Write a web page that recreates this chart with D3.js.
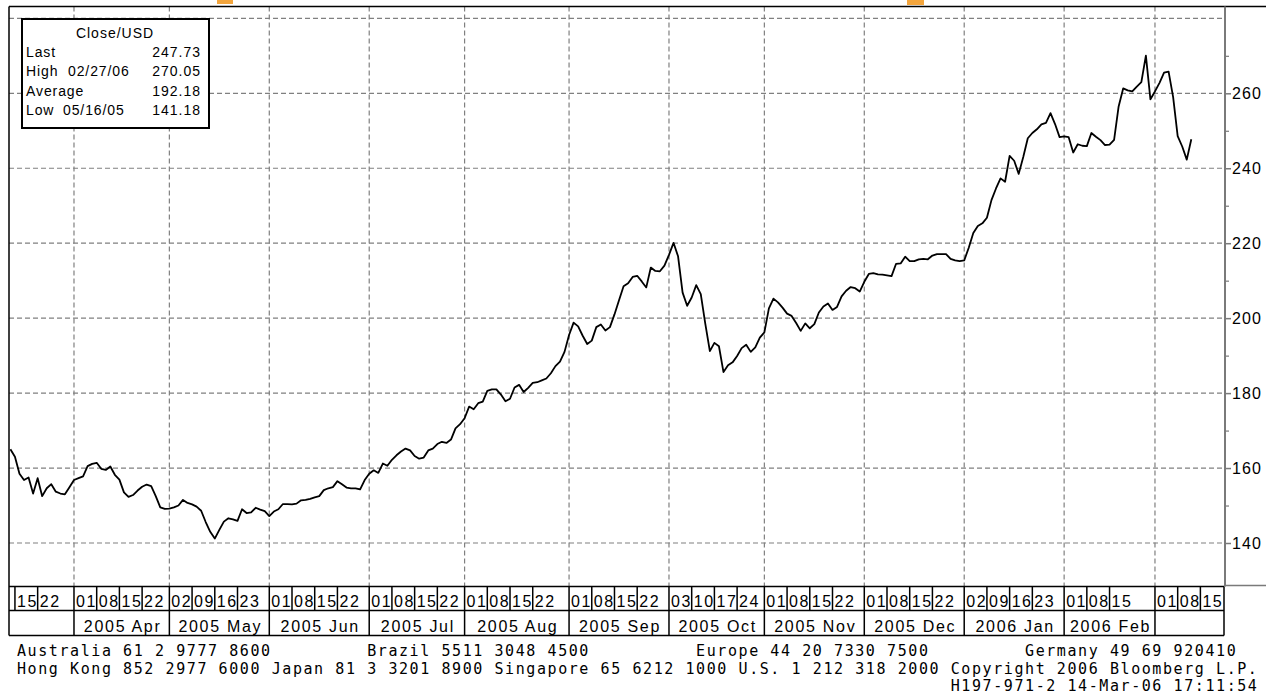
<!DOCTYPE html>
<html>
<head>
<meta charset="utf-8">
<script src="https://cdn.jsdelivr.net/npm/d3@7"></script>
<style>
  body { margin: 0; background: #fff; }
  svg { display: block; }
  text { font-family: "Liberation Sans", Arial, sans-serif; fill: #000; }
  .mono { font-family: "DejaVu Sans Mono", monospace; }
</style>
</head>
<body>
<svg id="chart" width="1266" height="698"></svg>
<script>
// chart data
const firstDay = "2005-03-14";   // first weekday on the chart
const lastAxisDay = "2006-03-22"; // axis runs a bit past the last close

// one close per weekday starting at firstDay
const closes = [
  165.0, 163.0, 158.5, 156.8, 157.5,
  153.2, 157.3, 152.5, 154.6, 155.7,
  153.7, 153.2, 153.0, 154.9, 156.8,
  157.3, 157.8, 160.5, 161.1, 161.4,
  159.8, 159.5, 160.4, 158.2, 156.9,
  153.5, 152.3, 152.8, 154.0, 155.0,
  155.6, 155.2, 152.5, 149.5, 149.1,
  149.2, 149.5, 150.0, 151.5, 150.7,
  150.3, 149.7, 148.6, 145.6, 143.0,
  141.18, 143.5, 145.7, 146.6, 146.3,
  145.9, 149.0, 148.0, 148.2, 149.4,
  148.9, 148.5, 147.2, 148.4, 149.0,
  150.4, 150.4, 150.3, 150.5, 151.4,
  151.5, 151.8, 152.2, 152.5, 154.1,
  154.6, 154.9, 156.5, 155.7, 154.8,
  154.6, 154.6, 154.3, 156.8, 158.5,
  159.4, 158.7, 161.2, 160.6, 162.2,
  163.4, 164.4, 165.2, 164.7, 163.2,
  162.5, 162.8, 164.7, 165.2, 166.4,
  167.0, 166.7, 167.6, 170.6, 171.7,
  173.3, 176.4, 175.7, 177.3, 177.7,
  180.6, 181.0, 181.0, 179.6, 177.8,
  178.5, 181.5, 182.2, 180.3, 181.4,
  182.7, 182.9, 183.4, 183.9, 185.3,
  187.2, 188.4, 191.0, 195.5, 198.8,
  197.8, 195.3, 193.1, 194.0, 197.6,
  198.3, 196.7, 197.6, 201.0, 204.8,
  208.5, 209.3, 211.0, 211.3, 209.8,
  208.2, 213.5, 212.6, 212.5, 214.0,
  216.9, 220.1, 216.5, 206.8, 203.3,
  205.5, 208.8, 206.4, 198.5, 191.2,
  193.4, 192.5, 185.6, 187.4, 188.2,
  189.9, 192.0, 192.9, 191.0, 192.2,
  194.8, 196.2, 202.6, 205.2, 204.2,
  202.8, 201.2, 200.6, 198.7, 196.6,
  198.6, 197.3, 198.4, 201.5, 203.1,
  203.9, 202.2, 203.0, 205.8, 207.3,
  208.3, 208.0, 207.1, 209.7, 211.8,
  212.0, 211.7, 211.6, 211.4, 211.2,
  214.5, 214.6, 216.4, 215.2, 215.2,
  215.7, 215.8, 215.7, 216.7, 217.1,
  217.1, 217.1, 215.8, 215.4, 215.2,
  215.4, 218.8, 222.7, 224.6, 225.3,
  226.8, 231.5, 234.6, 237.3, 236.4,
  243.3, 242.0, 238.5, 243.0, 248.0,
  249.4, 250.4, 251.7, 252.1, 254.7,
  251.8, 248.3, 248.5, 248.3, 244.2,
  246.4, 246.0, 245.9, 249.4, 248.4,
  247.5, 246.2, 246.3, 247.6, 256.5,
  261.3, 260.8, 260.5, 261.8, 263.0,
  270.05, 258.4, 260.5, 262.8, 265.5,
  265.8, 259.0, 248.6, 245.8, 242.3,
  247.73
];

const yTicks = [140, 160, 180, 200, 220, 240, 260];
const yGrid = [140, 160, 180, 200, 220, 240, 260, 280];
const yMinor = [150, 170, 190, 210, 230, 250, 270];

const dayTicks = [
  "2005-03-15", "2005-03-22",
  "2005-04-01", "2005-04-08", "2005-04-15", "2005-04-22",
  "2005-05-02", "2005-05-09", "2005-05-16", "2005-05-23",
  "2005-06-01", "2005-06-08", "2005-06-15", "2005-06-22",
  "2005-07-01", "2005-07-08", "2005-07-15", "2005-07-22",
  "2005-08-01", "2005-08-08", "2005-08-15", "2005-08-22",
  "2005-09-01", "2005-09-08", "2005-09-15", "2005-09-22",
  "2005-10-03", "2005-10-10", "2005-10-17", "2005-10-24",
  "2005-11-01", "2005-11-08", "2005-11-15", "2005-11-22",
  "2005-12-01", "2005-12-08", "2005-12-15", "2005-12-22",
  "2006-01-02", "2006-01-09", "2006-01-16", "2006-01-23",
  "2006-02-01", "2006-02-08", "2006-02-15",
  "2006-03-01", "2006-03-08", "2006-03-15"
];
const monthStarts = [
  "2005-04-01", "2005-05-02", "2005-06-01", "2005-07-01", "2005-08-01", "2005-09-01",
  "2005-10-03", "2005-11-01", "2005-12-01", "2006-01-02", "2006-02-01", "2006-03-01"
];
const monthLabels = [
  "2005 Apr", "2005 May", "2005 Jun", "2005 Jul", "2005 Aug", "2005 Sep",
  "2005 Oct", "2005 Nov", "2005 Dec", "2006 Jan", "2006 Feb"
];

const legendTitle = "Close/USD";
const legendLabels = ["Last", "High", "Average", "Low"];
const legendDates = ["", "02/27/06", "", "05/16/05"];
const legendValues = ["247.73", "270.05", "192.18", "141.18"];

const footerLines = [
  "Australia 61 2 9777 8600         Brazil 5511 3048 4500          Europe 44 20 7330 7500         Germany 49 69 920410",
  "Hong Kong 852 2977 6000 Japan 81 3 3201 8900 Singapore 65 6212 1000 U.S. 1 212 318 2000 Copyright 2006 Bloomberg L.P.",
  "                                                                                        H197-971-2 14-Mar-06 17:11:54"
];

(function() {
  const svg = d3.select('#chart');

  const parse = d3.timeParse('%Y-%m-%d');
  const day0 = parse(firstDay);
  // x is a weekday count - bloomberg drops the weekends
  const tradingIndex = d => {
    const n = d3.timeDay.count(day0, d);
    return Math.floor(n / 7) * 5 + Math.min(n % 7, 5);
  };
  const dateAt = i => d3.timeDay.offset(day0, Math.floor(i / 5) * 7 + (i % 5));

  const data = closes.map((v, i) => ({ date: dateAt(i), close: v }));

  // plot box
  const left = 9, top = 6.5, plotRight = 1225, plotBottom = 586.5;
  const row1 = 586.5, row2 = 610.5, row3 = 635.5;

  const x = d3.scaleLinear()
    .domain([0, tradingIndex(parse(lastAxisDay))])
    .range([10.4, 1223.1]);
  const y = d3.scaleLinear()
    .domain([140, 260])
    .range([543, 93.3]);

  const xd = s => x(tradingIndex(parse(s)));

  // little orange bits poking in from the top (cut off header art)
  svg.append('rect').attr('x', 217).attr('y', 0).attr('width', 16).attr('height', 4).attr('fill', '#f3a53c');
  svg.append('rect').attr('x', 907).attr('y', 0).attr('width', 17).attr('height', 5).attr('fill', '#f3a53c');

  // dashed grid
  const grid = svg.append('g')
    .attr('stroke', '#808080')
    .attr('stroke-width', 1.2)
    .attr('stroke-dasharray', '5,3');

  grid.selectAll('line.h')
      .data(yGrid)
    .enter().append('line')
      .attr('class', 'h')
      .attr('x1', left).attr('x2', plotRight)
      .attr('y1', d => y(d)).attr('y2', d => y(d));

  grid.selectAll('line.v')
      .data(monthStarts)
    .enter().append('line')
      .attr('class', 'v')
      .attr('x1', d => xd(d)).attr('x2', d => xd(d))
      .attr('y1', top).attr('y2', plotBottom);

  // price line
  const line = d3.line()
    .x(d => x(tradingIndex(d.date)))
    .y(d => y(d.close));

  svg.append('path')
    .datum(data)
    .attr('fill', 'none')
    .attr('stroke', '#000')
    .attr('stroke-width', 1.8)
    .attr('stroke-linejoin', 'round')
    .attr('d', line);

  // frame
  svg.append('line').attr('x1', left).attr('x2', 1266).attr('y1', top).attr('y2', top)
    .attr('stroke', '#000').attr('stroke-width', 1.5);
  svg.append('line').attr('x1', left).attr('x2', left).attr('y1', top).attr('y2', row3)
    .attr('stroke', '#000').attr('stroke-width', 1.5);
  svg.append('line').attr('x1', plotRight).attr('x2', plotRight).attr('y1', top).attr('y2', plotBottom)
    .attr('stroke', '#7a7a7a').attr('stroke-width', 2);
  svg.append('line').attr('x1', plotRight).attr('x2', 1266).attr('y1', plotBottom - 1).attr('y2', plotBottom - 1)
    .attr('stroke', '#7a7a7a').attr('stroke-width', 1.5);

  // right price axis
  const yAxis = svg.append('g')
    .attr('transform', `translate(${plotRight},0)`)
    .call(d3.axisRight(y).tickValues(yTicks).tickSize(6).tickPadding(1).tickFormat(d3.format('d')));
  yAxis.select('.domain').remove();
  yAxis.selectAll('line').attr('stroke', '#7a7a7a').attr('stroke-width', 1.5);
  yAxis.selectAll('text')
    .attr('font-family', '"Liberation Sans", Arial, sans-serif')
    .attr('font-size', 16)
    .attr('letter-spacing', '1.1px')
    .attr('fill', '#000');

  const yMinorAxis = svg.append('g')
    .attr('transform', `translate(${plotRight},0)`)
    .call(d3.axisRight(y).tickValues(yMinor).tickSize(4).tickFormat(''));
  yMinorAxis.select('.domain').remove();
  yMinorAxis.selectAll('line').attr('stroke', '#7a7a7a').attr('stroke-width', 1.2);

  // date box under the plot
  const axisBox = svg.append('g')
    .attr('stroke', '#000')
    .attr('stroke-width', 1.5);

  [row1, row2, row3].forEach(yy => {
    axisBox.append('line').attr('x1', left).attr('x2', plotRight - 1).attr('y1', yy).attr('y2', yy);
  });
  axisBox.append('line').attr('x1', plotRight - 1).attr('x2', plotRight - 1).attr('y1', row1).attr('y2', row3);

  axisBox.selectAll('line.day')
      .data(dayTicks)
    .enter().append('line')
      .attr('class', 'day')
      .attr('x1', d => xd(d)).attr('x2', d => xd(d))
      .attr('y1', row1).attr('y2', row2);

  axisBox.selectAll('line.month')
      .data(monthStarts)
    .enter().append('line')
      .attr('class', 'month')
      .attr('x1', d => xd(d)).attr('x2', d => xd(d))
      .attr('y1', row2).attr('y2', row3);

  svg.append('g').selectAll('text')
      .data(dayTicks)
    .enter().append('text')
      .attr('x', d => xd(d) + 2)
      .attr('y', row2 - 3.5)
      .attr('font-size', 16)
      .attr('letter-spacing', '1.6px')
      .text(d => d.slice(8, 10));

  // month cells are centred between their starts
  const monthEdges = monthStarts.map(xd);
  svg.append('g').selectAll('text')
      .data(monthLabels)
    .enter().append('text')
      .attr('x', (d, i) => (monthEdges[i] + monthEdges[i + 1]) / 2 + 1)
      .attr('y', row3 - 4)
      .attr('text-anchor', 'middle')
      .attr('font-size', 16)
      .attr('letter-spacing', '1.7px')
      .text(d => d);

  // legend box top left
  const legend = svg.append('g');
  legend.append('rect')
    .attr('x', 22).attr('y', 19)
    .attr('width', 187).attr('height', 109)
    .attr('fill', '#fff')
    .attr('stroke', '#000')
    .attr('stroke-width', 2);

  legend.append('text')
    .attr('x', 115).attr('y', 37.5)
    .attr('text-anchor', 'middle')
    .attr('font-size', 14)
    .attr('letter-spacing', '1px')
    .text(legendTitle);

  const rowY = i => 57 + i * 19.4;
  legend.selectAll('text.lab')
      .data(legendLabels)
    .enter().append('text')
      .attr('class', 'lab')
      .attr('x', 26).attr('y', (d, i) => rowY(i))
      .attr('font-size', 14)
      .attr('letter-spacing', '0.9px')
      .text(d => d);
  legend.selectAll('text.dt')
      .data(legendDates)
    .enter().append('text')
      .attr('class', 'dt')
      .attr('x', (d, i) => i === 1 ? 68 : 63).attr('y', (d, i) => rowY(i))
      .attr('font-size', 14)
      .attr('letter-spacing', '0.9px')
      .text(d => d);
  legend.selectAll('text.val')
      .data(legendValues)
    .enter().append('text')
      .attr('class', 'val')
      .attr('x', 201).attr('y', (d, i) => rowY(i))
      .attr('text-anchor', 'end')
      .attr('font-size', 14)
      .attr('letter-spacing', '1px')
      .text(d => d);

  // contact numbers at the bottom
  svg.append('g').selectAll('text')
      .data(footerLines)
    .enter().append('text')
      .attr('class', 'mono')
      .attr('xml:space', 'preserve')
      .style('white-space', 'pre')
      .attr('x', 17)
      .attr('y', (d, i) => 656 + i * 17.5)
      .attr('font-size', 15)
      .attr('letter-spacing', '1.58px')
      .text(d => d);
})();
</script>
</body>
</html>
